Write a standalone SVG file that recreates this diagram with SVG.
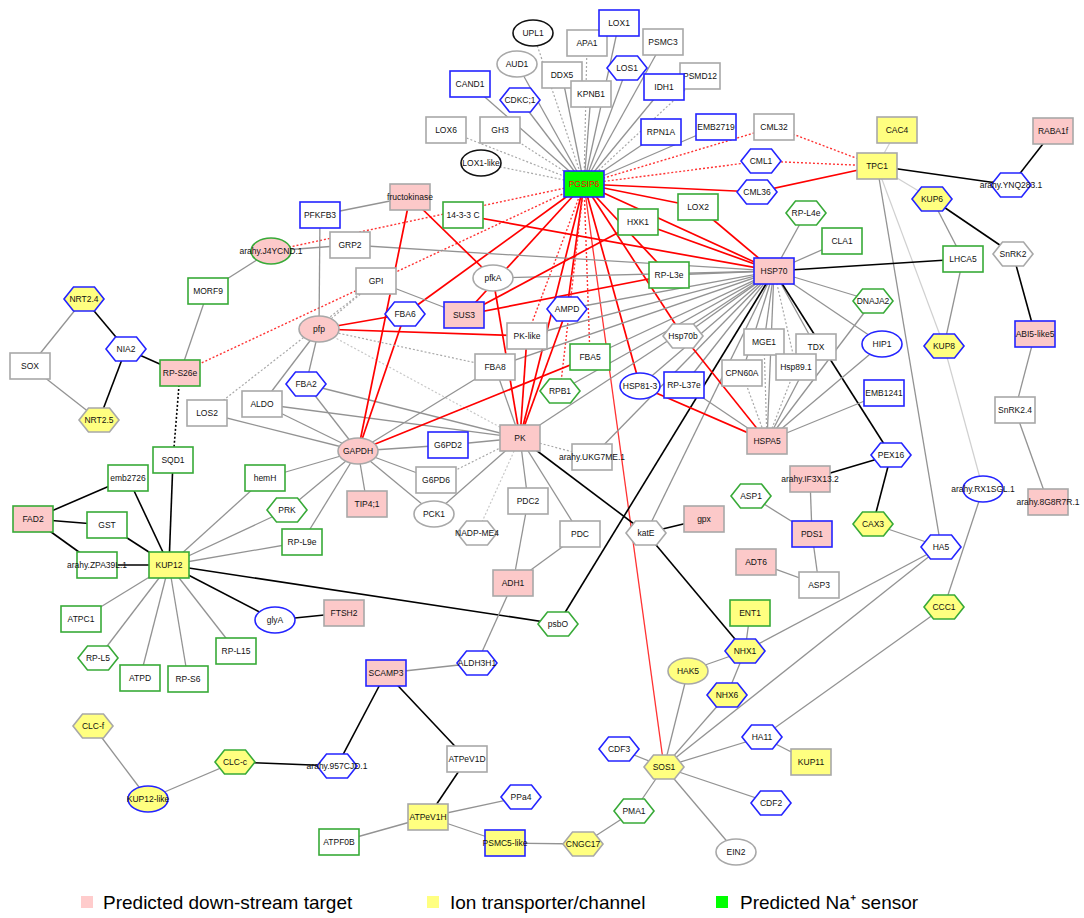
<svg xmlns="http://www.w3.org/2000/svg" xmlns:xlink="http://www.w3.org/1999/xlink" width="1084" height="918" viewBox="0 0 1084 918">
<defs>
<polygon id="hx" points="-20,0 -10.5,-12 10.5,-12 20,0 10.5,12 -10.5,12"/>
<style>
.w{fill:#fff}.p{fill:#fcc9c9}.y{fill:#ffff80}.gf{fill:#00ff00}
.b{stroke:#2424ff}.gs{stroke:#38aa38}.s{stroke:#a8a8a8}.bk{stroke:#111}
rect,ellipse,use{stroke-width:1.6}
text{font-family:"Liberation Sans",Arial,sans-serif;font-size:8.5px;text-anchor:middle;fill:#111}
.lg text{font-size:19px;text-anchor:start;fill:#000}
line{fill:none}
.eg{stroke:#939393;stroke-width:1.3}
.egd{stroke:#a8a8a8;stroke-width:1.2;stroke-dasharray:2 2}
.elg{stroke:#d0d0d0;stroke-width:1.2}
.elgd{stroke:#c8c8c8;stroke-width:1.2;stroke-dasharray:2 2}
.er{stroke:#f00;stroke-width:1.7}
.ert{stroke:#f33;stroke-width:1.3}
.erd{stroke:#f33;stroke-width:1.4;stroke-dasharray:2 2}
.ek{stroke:#000;stroke-width:1.6}
.ekd{stroke:#000;stroke-width:1.6;stroke-dasharray:2 2}
</style>
</defs>
<rect width="1084" height="918" fill="#fff"/>
<g id="connectors">
<line class="egd" x1="584" y1="184" x2="533" y2="33"/>
<line class="eg" x1="584" y1="184" x2="517" y2="64"/>
<line class="eg" x1="584" y1="184" x2="470" y2="84"/>
<line class="eg" x1="584" y1="184" x2="520" y2="100"/>
<line class="egd" x1="584" y1="184" x2="446" y2="130"/>
<line class="egd" x1="584" y1="184" x2="500" y2="130"/>
<line class="egd" x1="584" y1="184" x2="481" y2="163"/>
<line class="egd" x1="584" y1="184" x2="587" y2="43"/>
<line class="eg" x1="584" y1="184" x2="562" y2="75"/>
<line class="eg" x1="584" y1="184" x2="591" y2="94"/>
<line class="eg" x1="584" y1="184" x2="619" y2="23"/>
<line class="eg" x1="584" y1="184" x2="627" y2="68"/>
<line class="eg" x1="584" y1="184" x2="663" y2="42"/>
<line class="egd" x1="584" y1="184" x2="700" y2="76"/>
<line class="eg" x1="584" y1="184" x2="664" y2="87"/>
<line class="eg" x1="584" y1="184" x2="661" y2="132"/>
<line class="eg" x1="584" y1="184" x2="716" y2="127"/>
<line class="erd" x1="584" y1="184" x2="774" y2="127"/>
<line class="erd" x1="584" y1="184" x2="761" y2="161"/>
<line class="er" x1="584" y1="184" x2="757" y2="192"/>
<line class="er" x1="584" y1="184" x2="698" y2="207"/>
<line class="er" x1="584" y1="184" x2="774" y2="271"/>
<line class="er" x1="584" y1="184" x2="669" y2="275"/>
<line class="er" x1="584" y1="184" x2="683" y2="336"/>
<line class="er" x1="584" y1="184" x2="640" y2="386"/>
<line class="ert" x1="584" y1="184" x2="664" y2="767"/>
<line class="erd" x1="584" y1="184" x2="590" y2="357"/>
<line class="er" x1="584" y1="184" x2="520" y2="438"/>
<line class="erd" x1="584" y1="184" x2="527" y2="336"/>
<line class="er" x1="584" y1="184" x2="567" y2="309"/>
<line class="erd" x1="584" y1="184" x2="560" y2="391"/>
<line class="erd" x1="584" y1="184" x2="271" y2="251"/>
<line class="erd" x1="584" y1="184" x2="180" y2="373"/>
<line class="er" x1="584" y1="184" x2="405" y2="314"/>
<line class="er" x1="584" y1="184" x2="464" y2="315"/>
<line class="erd" x1="774" y1="127" x2="877" y2="166"/>
<line class="erd" x1="761" y1="161" x2="877" y2="166"/>
<line class="er" x1="757" y1="192" x2="877" y2="166"/>
<line class="elg" x1="877" y1="166" x2="897" y2="130"/>
<line class="ek" x1="877" y1="166" x2="1011" y2="185"/>
<line class="ek" x1="1053" y1="131" x2="1011" y2="185"/>
<line class="elg" x1="877" y1="166" x2="932" y2="199"/>
<line class="eg" x1="877" y1="166" x2="941" y2="547"/>
<line class="elg" x1="877" y1="166" x2="944" y2="346"/>
<line class="ek" x1="932" y1="199" x2="1013" y2="254"/>
<line class="eg" x1="932" y1="199" x2="963" y2="259"/>
<line class="eg" x1="963" y1="259" x2="944" y2="346"/>
<line class="ek" x1="963" y1="259" x2="774" y2="271"/>
<line class="ek" x1="1013" y1="254" x2="1035" y2="334"/>
<line class="eg" x1="1035" y1="334" x2="1015" y2="410"/>
<line class="eg" x1="1015" y1="410" x2="1048" y2="502"/>
<line class="elg" x1="944" y1="346" x2="983" y2="489"/>
<line class="eg" x1="983" y1="489" x2="944" y2="607"/>
<line class="eg" x1="944" y1="607" x2="762" y2="737"/>
<line class="er" x1="463" y1="215" x2="774" y2="271"/>
<line class="er" x1="698" y1="207" x2="774" y2="271"/>
<line class="er" x1="638" y1="222" x2="774" y2="271"/>
<line class="eg" x1="350" y1="245" x2="774" y2="271"/>
<line class="eg" x1="493" y1="278" x2="774" y2="271"/>
<line class="eg" x1="669" y1="275" x2="774" y2="271"/>
<line class="eg" x1="806" y1="213" x2="774" y2="271"/>
<line class="eg" x1="842" y1="241" x2="774" y2="271"/>
<line class="eg" x1="873" y1="301" x2="774" y2="271"/>
<line class="eg" x1="882" y1="344" x2="774" y2="271"/>
<line class="eg" x1="816" y1="347" x2="774" y2="271"/>
<line class="egd" x1="796" y1="367" x2="774" y2="271"/>
<line class="eg" x1="764" y1="342" x2="774" y2="271"/>
<line class="eg" x1="742" y1="373" x2="774" y2="271"/>
<line class="eg" x1="767" y1="441" x2="774" y2="271"/>
<line class="eg" x1="684" y1="385" x2="774" y2="271"/>
<line class="eg" x1="640" y1="386" x2="774" y2="271"/>
<line class="eg" x1="683" y1="336" x2="774" y2="271"/>
<line class="eg" x1="590" y1="357" x2="774" y2="271"/>
<line class="eg" x1="560" y1="391" x2="774" y2="271"/>
<line class="eg" x1="567" y1="309" x2="774" y2="271"/>
<line class="eg" x1="527" y1="336" x2="774" y2="271"/>
<line class="eg" x1="495" y1="367" x2="774" y2="271"/>
<line class="eg" x1="520" y1="438" x2="774" y2="271"/>
<line class="eg" x1="592" y1="457" x2="774" y2="271"/>
<line class="eg" x1="646" y1="533" x2="774" y2="271"/>
<line class="ek" x1="891" y1="455" x2="774" y2="271"/>
<line class="ek" x1="558" y1="624" x2="774" y2="271"/>
<line class="er" x1="683" y1="336" x2="767" y2="441"/>
<line class="er" x1="640" y1="386" x2="767" y2="441"/>
<line class="eg" x1="684" y1="385" x2="767" y2="441"/>
<line class="egd" x1="742" y1="373" x2="767" y2="441"/>
<line class="egd" x1="764" y1="342" x2="767" y2="441"/>
<line class="egd" x1="796" y1="367" x2="767" y2="441"/>
<line class="eg" x1="816" y1="347" x2="767" y2="441"/>
<line class="eg" x1="882" y1="344" x2="767" y2="441"/>
<line class="eg" x1="884" y1="393" x2="767" y2="441"/>
<line class="eg" x1="873" y1="301" x2="767" y2="441"/>
<line class="er" x1="493" y1="278" x2="520" y2="438"/>
<line class="er" x1="567" y1="309" x2="520" y2="438"/>
<line class="er" x1="527" y1="336" x2="520" y2="438"/>
<line class="eg" x1="495" y1="367" x2="520" y2="438"/>
<line class="eg" x1="262" y1="404" x2="520" y2="438"/>
<line class="eg" x1="306" y1="384" x2="520" y2="438"/>
<line class="elgd" x1="319" y1="329" x2="520" y2="438"/>
<line class="eg" x1="448" y1="445" x2="520" y2="438"/>
<line class="egd" x1="436" y1="480" x2="520" y2="438"/>
<line class="eg" x1="434" y1="514" x2="520" y2="438"/>
<line class="elgd" x1="477" y1="533" x2="520" y2="438"/>
<line class="eg" x1="528" y1="501" x2="520" y2="438"/>
<line class="eg" x1="580" y1="534" x2="520" y2="438"/>
<line class="egd" x1="592" y1="457" x2="520" y2="438"/>
<line class="ek" x1="646" y1="533" x2="520" y2="438"/>
<line class="er" x1="410" y1="197" x2="358" y2="451"/>
<line class="er" x1="405" y1="314" x2="358" y2="451"/>
<line class="er" x1="590" y1="357" x2="358" y2="451"/>
<line class="eg" x1="495" y1="367" x2="358" y2="451"/>
<line class="eg" x1="306" y1="384" x2="358" y2="451"/>
<line class="eg" x1="262" y1="404" x2="358" y2="451"/>
<line class="eg" x1="207" y1="413" x2="358" y2="451"/>
<line class="eg" x1="265" y1="478" x2="358" y2="451"/>
<line class="eg" x1="287" y1="510" x2="358" y2="451"/>
<line class="eg" x1="302" y1="542" x2="358" y2="451"/>
<line class="eg" x1="367" y1="504" x2="358" y2="451"/>
<line class="eg" x1="434" y1="514" x2="358" y2="451"/>
<line class="eg" x1="436" y1="480" x2="358" y2="451"/>
<line class="eg" x1="448" y1="445" x2="358" y2="451"/>
<line class="er" x1="319" y1="329" x2="405" y2="314"/>
<line class="er" x1="319" y1="329" x2="527" y2="336"/>
<line class="eg" x1="319" y1="329" x2="306" y2="384"/>
<line class="eg" x1="319" y1="329" x2="262" y2="404"/>
<line class="eg" x1="319" y1="329" x2="320" y2="215"/>
<line class="egd" x1="319" y1="329" x2="495" y2="367"/>
<line class="egd" x1="319" y1="329" x2="376" y2="281"/>
<line class="eg" x1="410" y1="197" x2="320" y2="215"/>
<line class="er" x1="410" y1="197" x2="493" y2="278"/>
<line class="eg" x1="350" y1="245" x2="271" y2="251"/>
<line class="eg" x1="271" y1="251" x2="208" y2="291"/>
<line class="eg" x1="208" y1="291" x2="180" y2="373"/>
<line class="eg" x1="376" y1="281" x2="464" y2="315"/>
<line class="egd" x1="376" y1="281" x2="207" y2="413"/>
<line class="er" x1="638" y1="222" x2="464" y2="315"/>
<line class="er" x1="669" y1="275" x2="464" y2="315"/>
<line class="ek" x1="180" y1="373" x2="126" y2="349"/>
<line class="ek" x1="126" y1="349" x2="84" y2="299"/>
<line class="ek" x1="126" y1="349" x2="99" y2="420"/>
<line class="eg" x1="30" y1="366" x2="84" y2="299"/>
<line class="eg" x1="30" y1="366" x2="99" y2="420"/>
<line class="ekd" x1="180" y1="373" x2="173" y2="460"/>
<line class="ek" x1="173" y1="460" x2="169" y2="565"/>
<line class="ek" x1="128" y1="478" x2="169" y2="565"/>
<line class="ek" x1="128" y1="478" x2="33" y2="519"/>
<line class="ek" x1="33" y1="519" x2="107" y2="525"/>
<line class="ek" x1="33" y1="519" x2="97" y2="565"/>
<line class="ek" x1="107" y1="525" x2="169" y2="565"/>
<line class="ek" x1="97" y1="565" x2="169" y2="565"/>
<line class="eg" x1="169" y1="565" x2="265" y2="478"/>
<line class="eg" x1="169" y1="565" x2="287" y2="510"/>
<line class="eg" x1="169" y1="565" x2="302" y2="542"/>
<line class="ek" x1="169" y1="565" x2="275" y2="620"/>
<line class="ek" x1="169" y1="565" x2="558" y2="624"/>
<line class="eg" x1="169" y1="565" x2="81" y2="619"/>
<line class="eg" x1="169" y1="565" x2="98" y2="658"/>
<line class="eg" x1="169" y1="565" x2="140" y2="678"/>
<line class="eg" x1="169" y1="565" x2="188" y2="679"/>
<line class="eg" x1="169" y1="565" x2="236" y2="651"/>
<line class="ek" x1="275" y1="620" x2="344" y2="613"/>
<line class="eg" x1="513" y1="583" x2="528" y2="501"/>
<line class="eg" x1="513" y1="583" x2="580" y2="534"/>
<line class="eg" x1="513" y1="583" x2="477" y2="663"/>
<line class="eg" x1="386" y1="673" x2="477" y2="663"/>
<line class="ek" x1="386" y1="673" x2="337" y2="766"/>
<line class="ek" x1="386" y1="673" x2="467" y2="759"/>
<line class="ek" x1="337" y1="766" x2="235" y2="762"/>
<line class="eg" x1="235" y1="762" x2="148" y2="799"/>
<line class="eg" x1="93" y1="726" x2="148" y2="799"/>
<line class="ek" x1="467" y1="759" x2="428" y2="817"/>
<line class="eg" x1="428" y1="817" x2="521" y2="797"/>
<line class="eg" x1="428" y1="817" x2="339" y2="842"/>
<line class="eg" x1="428" y1="817" x2="505" y2="843"/>
<line class="eg" x1="505" y1="843" x2="583" y2="844"/>
<line class="eg" x1="583" y1="844" x2="634" y2="811"/>
<line class="eg" x1="634" y1="811" x2="664" y2="767"/>
<line class="eg" x1="664" y1="767" x2="619" y2="749"/>
<line class="eg" x1="664" y1="767" x2="771" y2="803"/>
<line class="eg" x1="664" y1="767" x2="736" y2="852"/>
<line class="eg" x1="664" y1="767" x2="762" y2="737"/>
<line class="eg" x1="664" y1="767" x2="688" y2="671"/>
<line class="eg" x1="664" y1="767" x2="727" y2="695"/>
<line class="eg" x1="664" y1="767" x2="941" y2="547"/>
<line class="eg" x1="745" y1="651" x2="750" y2="613"/>
<line class="eg" x1="745" y1="651" x2="688" y2="671"/>
<line class="eg" x1="745" y1="651" x2="727" y2="695"/>
<line class="eg" x1="745" y1="651" x2="941" y2="547"/>
<line class="ek" x1="745" y1="651" x2="646" y2="533"/>
<line class="eg" x1="762" y1="737" x2="811" y2="762"/>
<line class="ek" x1="646" y1="533" x2="704" y2="519"/>
<line class="eg" x1="941" y1="547" x2="873" y2="524"/>
<line class="ek" x1="873" y1="524" x2="891" y2="455"/>
<line class="ek" x1="891" y1="455" x2="810" y2="479"/>
<line class="eg" x1="810" y1="479" x2="812" y2="534"/>
<line class="eg" x1="812" y1="534" x2="751" y2="496"/>
<line class="eg" x1="812" y1="534" x2="819" y2="585"/>
<line class="eg" x1="756" y1="562" x2="819" y2="585"/>
</g>
<g id="nodes">
<g id="n-UPL1" transform="translate(533,33)"><ellipse rx="20" ry="13" class="w bk"/><text y="3">UPL1</text></g>
<g id="n-AUD1" transform="translate(517,64)"><ellipse rx="20" ry="13" class="w s"/><text y="3">AUD1</text></g>
<g id="n-CAND1" transform="translate(470,84)"><rect x="-20" y="-13" width="40" height="26" class="w b"/><text y="3">CAND1</text></g>
<g id="n-CDKC1" transform="translate(520,100)"><use href="#hx" class="w b"/><text y="3">CDKC;1</text></g>
<g id="n-LOX6" transform="translate(446,130)"><rect x="-20" y="-13" width="40" height="26" class="w s"/><text y="3">LOX6</text></g>
<g id="n-GH3" transform="translate(500,130)"><rect x="-20" y="-13" width="40" height="26" class="w s"/><text y="3">GH3</text></g>
<g id="n-LOX1like" transform="translate(481,163)"><ellipse rx="20" ry="13" class="w bk"/><text y="3">LOX1-like</text></g>
<g id="n-APA1" transform="translate(587,43)"><rect x="-20" y="-13" width="40" height="26" class="w s"/><text y="3">APA1</text></g>
<g id="n-LOX1" transform="translate(619,23)"><rect x="-20" y="-13" width="40" height="26" class="w b"/><text y="3">LOX1</text></g>
<g id="n-PSMC3" transform="translate(663,42)"><rect x="-20" y="-13" width="40" height="26" class="w s"/><text y="3">PSMC3</text></g>
<g id="n-DDX5" transform="translate(562,75)"><rect x="-20" y="-13" width="40" height="26" class="w s"/><text y="3">DDX5</text></g>
<g id="n-LOS1" transform="translate(627,68)"><use href="#hx" class="w b"/><text y="3">LOS1</text></g>
<g id="n-PSMD12" transform="translate(700,76)"><rect x="-20" y="-13" width="40" height="26" class="w s"/><text y="3">PSMD12</text></g>
<g id="n-IDH1" transform="translate(664,87)"><rect x="-20" y="-13" width="40" height="26" class="w b"/><text y="3">IDH1</text></g>
<g id="n-KPNB1" transform="translate(591,94)"><rect x="-20" y="-13" width="40" height="26" class="w s"/><text y="3">KPNB1</text></g>
<g id="n-RPN1A" transform="translate(661,132)"><rect x="-20" y="-13" width="40" height="26" class="w b"/><text y="3">RPN1A</text></g>
<g id="n-EMB2719" transform="translate(716,127)"><rect x="-20" y="-13" width="40" height="26" class="w b"/><text y="3">EMB2719</text></g>
<g id="n-CML32" transform="translate(774,127)"><rect x="-20" y="-13" width="40" height="26" class="w s"/><text y="3">CML32</text></g>
<g id="n-CML1" transform="translate(761,161)"><use href="#hx" class="w b"/><text y="3">CML1</text></g>
<g id="n-CML36" transform="translate(757,192)"><use href="#hx" class="w b"/><text y="3">CML36</text></g>
<g id="n-PGSIP6" transform="translate(584,184)"><rect x="-20" y="-13" width="40" height="26" class="gf b"/><text y="3" style="fill:#f00">PGSIP6</text></g>
<g id="n-LOX2" transform="translate(698,207)"><rect x="-20" y="-13" width="40" height="26" class="w gs"/><text y="3">LOX2</text></g>
<g id="n-HXK1" transform="translate(638,222)"><rect x="-20" y="-13" width="40" height="26" class="w gs"/><text y="3">HXK1</text></g>
<g id="n-RPL3e" transform="translate(669,275)"><rect x="-20" y="-13" width="40" height="26" class="w gs"/><text y="3">RP-L3e</text></g>
<g id="n-HSP70" transform="translate(774,271)"><rect x="-20" y="-13" width="40" height="26" class="p b"/><text y="3">HSP70</text></g>
<g id="n-RPL4e" transform="translate(806,213)"><use href="#hx" class="w gs"/><text y="3">RP-L4e</text></g>
<g id="n-CAC4" transform="translate(897,130)"><rect x="-20" y="-13" width="40" height="26" class="y s"/><text y="3">CAC4</text></g>
<g id="n-RABA1f" transform="translate(1053,131)"><rect x="-20" y="-13" width="40" height="26" class="p s"/><text y="3">RABA1f</text></g>
<g id="n-TPC1" transform="translate(877,166)"><rect x="-20" y="-13" width="40" height="26" class="y s"/><text y="3">TPC1</text></g>
<g id="n-YNQ" transform="translate(1011,185)"><use href="#hx" class="w b"/><text y="3">arahy.YNQ283.1</text></g>
<g id="n-KUP6" transform="translate(932,199)"><use href="#hx" class="y b"/><text y="3">KUP6</text></g>
<g id="n-CLA1" transform="translate(842,241)"><rect x="-20" y="-13" width="40" height="26" class="w gs"/><text y="3">CLA1</text></g>
<g id="n-LHCA5" transform="translate(963,259)"><rect x="-20" y="-13" width="40" height="26" class="w gs"/><text y="3">LHCA5</text></g>
<g id="n-SnRK2" transform="translate(1013,254)"><use href="#hx" class="w s"/><text y="3">SnRK2</text></g>
<g id="n-DNAJA2" transform="translate(873,301)"><use href="#hx" class="w gs"/><text y="3">DNAJA2</text></g>
<g id="n-fructokinase" transform="translate(410,197)"><rect x="-20" y="-13" width="40" height="26" class="p s"/><text y="3">fructokinase</text></g>
<g id="n-PFKFB3" transform="translate(320,215)"><rect x="-20" y="-13" width="40" height="26" class="w b"/><text y="3">PFKFB3</text></g>
<g id="n-1433C" transform="translate(463,215)"><rect x="-20" y="-13" width="40" height="26" class="w gs"/><text y="3">14-3-3 C</text></g>
<g id="n-GRP2" transform="translate(350,245)"><rect x="-20" y="-13" width="40" height="26" class="w s"/><text y="3">GRP2</text></g>
<g id="n-J4YCND" transform="translate(271,251)"><ellipse rx="20" ry="13" class="p gs"/><text y="3">arahy.J4YCND.1</text></g>
<g id="n-GPI" transform="translate(376,281)"><rect x="-20" y="-13" width="40" height="26" class="w s"/><text y="3">GPI</text></g>
<g id="n-pfkA" transform="translate(493,278)"><ellipse rx="20" ry="13" class="w s"/><text y="3">pfkA</text></g>
<g id="n-SUS3" transform="translate(464,315)"><rect x="-20" y="-13" width="40" height="26" class="p b"/><text y="3">SUS3</text></g>
<g id="n-MORF9" transform="translate(208,291)"><rect x="-20" y="-13" width="40" height="26" class="w gs"/><text y="3">MORF9</text></g>
<g id="n-NRT24" transform="translate(84,299)"><use href="#hx" class="y b"/><text y="3">NRT2.4</text></g>
<g id="n-NIA2" transform="translate(126,349)"><use href="#hx" class="w b"/><text y="3">NIA2</text></g>
<g id="n-SOX" transform="translate(30,366)"><rect x="-20" y="-13" width="40" height="26" class="w s"/><text y="3">SOX</text></g>
<g id="n-NRT25" transform="translate(99,420)"><use href="#hx" class="y s"/><text y="3">NRT2.5</text></g>
<g id="n-RPS26e" transform="translate(180,373)"><rect x="-20" y="-13" width="40" height="26" class="p gs"/><text y="3">RP-S26e</text></g>
<g id="n-LOS2" transform="translate(207,413)"><rect x="-20" y="-13" width="40" height="26" class="w s"/><text y="3">LOS2</text></g>
<g id="n-ALDO" transform="translate(262,404)"><rect x="-20" y="-13" width="40" height="26" class="w s"/><text y="3">ALDO</text></g>
<g id="n-SQD1" transform="translate(173,460)"><rect x="-20" y="-13" width="40" height="26" class="w gs"/><text y="3">SQD1</text></g>
<g id="n-emb2726" transform="translate(128,478)"><rect x="-20" y="-13" width="40" height="26" class="w gs"/><text y="3">emb2726</text></g>
<g id="n-hemH" transform="translate(265,478)"><rect x="-20" y="-13" width="40" height="26" class="w gs"/><text y="3">hemH</text></g>
<g id="n-FAD2" transform="translate(33,519)"><rect x="-20" y="-13" width="40" height="26" class="p gs"/><text y="3">FAD2</text></g>
<g id="n-GST" transform="translate(107,525)"><rect x="-20" y="-13" width="40" height="26" class="w gs"/><text y="3">GST</text></g>
<g id="n-ZPA39L" transform="translate(97,565)"><rect x="-20" y="-13" width="40" height="26" class="w gs"/><text y="3">arahy.ZPA39L.1</text></g>
<g id="n-KUP12" transform="translate(169,565)"><rect x="-20" y="-13" width="40" height="26" class="y gs"/><text y="3">KUP12</text></g>
<g id="n-PRK" transform="translate(287,510)"><use href="#hx" class="w gs"/><text y="3">PRK</text></g>
<g id="n-RPL9e" transform="translate(302,542)"><rect x="-20" y="-13" width="40" height="26" class="w gs"/><text y="3">RP-L9e</text></g>
<g id="n-pfp" transform="translate(319,329)"><ellipse rx="20" ry="13" class="p s"/><text y="3">pfp</text></g>
<g id="n-FBA6" transform="translate(405,314)"><use href="#hx" class="w b"/><text y="3">FBA6</text></g>
<g id="n-PKlike" transform="translate(527,336)"><rect x="-20" y="-13" width="40" height="26" class="w s"/><text y="3">PK-like</text></g>
<g id="n-FBA8" transform="translate(495,367)"><rect x="-20" y="-13" width="40" height="26" class="w s"/><text y="3">FBA8</text></g>
<g id="n-FBA2" transform="translate(306,384)"><use href="#hx" class="w b"/><text y="3">FBA2</text></g>
<g id="n-GAPDH" transform="translate(358,451)"><ellipse rx="20" ry="13" class="p s"/><text y="3">GAPDH</text></g>
<g id="n-G6PD2" transform="translate(448,445)"><rect x="-20" y="-13" width="40" height="26" class="w b"/><text y="3">G6PD2</text></g>
<g id="n-PK" transform="translate(520,438)"><rect x="-20" y="-13" width="40" height="26" class="p s"/><text y="3">PK</text></g>
<g id="n-G6PD6" transform="translate(436,480)"><rect x="-20" y="-13" width="40" height="26" class="w s"/><text y="3">G6PD6</text></g>
<g id="n-TIP41" transform="translate(367,504)"><rect x="-20" y="-13" width="40" height="26" class="p s"/><text y="3">TIP4;1</text></g>
<g id="n-PCK1" transform="translate(434,514)"><ellipse rx="20" ry="13" class="w s"/><text y="3">PCK1</text></g>
<g id="n-PDC2" transform="translate(528,501)"><rect x="-20" y="-13" width="40" height="26" class="w s"/><text y="3">PDC2</text></g>
<g id="n-NADPME4" transform="translate(477,533)"><use href="#hx" class="w s"/><text y="3">NADP-ME4</text></g>
<g id="n-ADH1" transform="translate(513,583)"><rect x="-20" y="-13" width="40" height="26" class="p s"/><text y="3">ADH1</text></g>
<g id="n-FTSH2" transform="translate(344,613)"><rect x="-20" y="-13" width="40" height="26" class="p s"/><text y="3">FTSH2</text></g>
<g id="n-glyA" transform="translate(275,620)"><ellipse rx="20" ry="13" class="w b"/><text y="3">glyA</text></g>
<g id="n-AMPD" transform="translate(567,309)"><use href="#hx" class="w b"/><text y="3">AMPD</text></g>
<g id="n-FBA5" transform="translate(590,357)"><rect x="-20" y="-13" width="40" height="26" class="w gs"/><text y="3">FBA5</text></g>
<g id="n-Hsp70b" transform="translate(683,336)"><use href="#hx" class="w s"/><text y="3">Hsp70b</text></g>
<g id="n-MGE1" transform="translate(764,342)"><rect x="-20" y="-13" width="40" height="26" class="w s"/><text y="3">MGE1</text></g>
<g id="n-TDX" transform="translate(816,347)"><rect x="-20" y="-13" width="40" height="26" class="w s"/><text y="3">TDX</text></g>
<g id="n-Hsp891" transform="translate(796,367)"><rect x="-20" y="-13" width="40" height="26" class="w s"/><text y="3">Hsp89.1</text></g>
<g id="n-CPN60A" transform="translate(742,373)"><rect x="-20" y="-13" width="40" height="26" class="w s"/><text y="3">CPN60A</text></g>
<g id="n-RPB1" transform="translate(560,391)"><use href="#hx" class="w gs"/><text y="3">RPB1</text></g>
<g id="n-HSP813" transform="translate(640,386)"><ellipse rx="20" ry="13" class="w b"/><text y="3">HSP81-3</text></g>
<g id="n-RPL37e" transform="translate(684,385)"><rect x="-20" y="-13" width="40" height="26" class="w b"/><text y="3">RP-L37e</text></g>
<g id="n-HSPA5" transform="translate(767,441)"><rect x="-20" y="-13" width="40" height="26" class="p s"/><text y="3">HSPA5</text></g>
<g id="n-UKG7ME" transform="translate(592,457)"><rect x="-20" y="-13" width="40" height="26" class="w s"/><text y="3">arahy.UKG7ME.1</text></g>
<g id="n-PDC" transform="translate(580,534)"><rect x="-20" y="-13" width="40" height="26" class="w s"/><text y="3">PDC</text></g>
<g id="n-katE" transform="translate(646,533)"><use href="#hx" class="w s"/><text y="3">katE</text></g>
<g id="n-gpx" transform="translate(704,519)"><rect x="-20" y="-13" width="40" height="26" class="p s"/><text y="3">gpx</text></g>
<g id="n-ASP1" transform="translate(751,496)"><use href="#hx" class="w gs"/><text y="3">ASP1</text></g>
<g id="n-IF3X13" transform="translate(810,479)"><rect x="-20" y="-13" width="40" height="26" class="p s"/><text y="3">arahy.IF3X13.2</text></g>
<g id="n-PDS1" transform="translate(812,534)"><rect x="-20" y="-13" width="40" height="26" class="p b"/><text y="3">PDS1</text></g>
<g id="n-ADT6" transform="translate(756,562)"><rect x="-20" y="-13" width="40" height="26" class="p s"/><text y="3">ADT6</text></g>
<g id="n-ASP3" transform="translate(819,585)"><rect x="-20" y="-13" width="40" height="26" class="w s"/><text y="3">ASP3</text></g>
<g id="n-ENT1" transform="translate(750,613)"><rect x="-20" y="-13" width="40" height="26" class="y gs"/><text y="3">ENT1</text></g>
<g id="n-HIP1" transform="translate(882,344)"><ellipse rx="20" ry="13" class="w b"/><text y="3">HIP1</text></g>
<g id="n-KUP8" transform="translate(944,346)"><use href="#hx" class="y b"/><text y="3">KUP8</text></g>
<g id="n-ABI5" transform="translate(1035,334)"><rect x="-20" y="-13" width="40" height="26" class="p b"/><text y="3">ABI5-like5</text></g>
<g id="n-EMB1241" transform="translate(884,393)"><rect x="-20" y="-13" width="40" height="26" class="w b"/><text y="3">EMB1241</text></g>
<g id="n-SnRK24" transform="translate(1015,410)"><rect x="-20" y="-13" width="40" height="26" class="w s"/><text y="3">SnRK2.4</text></g>
<g id="n-PEX16" transform="translate(891,455)"><use href="#hx" class="w b"/><text y="3">PEX16</text></g>
<g id="n-RX1SGL" transform="translate(983,489)"><ellipse rx="20" ry="13" class="w b"/><text y="3">arahy.RX1SGL.1</text></g>
<g id="n-8G8R7R" transform="translate(1048,502)"><rect x="-20" y="-13" width="40" height="26" class="p s"/><text y="3">arahy.8G8R7R.1</text></g>
<g id="n-CAX3" transform="translate(873,524)"><use href="#hx" class="y gs"/><text y="3">CAX3</text></g>
<g id="n-HA5" transform="translate(941,547)"><use href="#hx" class="w b"/><text y="3">HA5</text></g>
<g id="n-CCC1" transform="translate(944,607)"><use href="#hx" class="y gs"/><text y="3">CCC1</text></g>
<g id="n-ATPC1" transform="translate(81,619)"><rect x="-20" y="-13" width="40" height="26" class="w gs"/><text y="3">ATPC1</text></g>
<g id="n-RPL5" transform="translate(98,658)"><use href="#hx" class="w gs"/><text y="3">RP-L5</text></g>
<g id="n-ATPD" transform="translate(140,678)"><rect x="-20" y="-13" width="40" height="26" class="w gs"/><text y="3">ATPD</text></g>
<g id="n-RPS6" transform="translate(188,679)"><rect x="-20" y="-13" width="40" height="26" class="w gs"/><text y="3">RP-S6</text></g>
<g id="n-RPL15" transform="translate(236,651)"><rect x="-20" y="-13" width="40" height="26" class="w gs"/><text y="3">RP-L15</text></g>
<g id="n-CLCf" transform="translate(93,726)"><use href="#hx" class="y s"/><text y="3">CLC-f</text></g>
<g id="n-CLCc" transform="translate(235,762)"><use href="#hx" class="y gs"/><text y="3">CLC-c</text></g>
<g id="n-KUP12like" transform="translate(148,799)"><ellipse rx="20" ry="13" class="y b"/><text y="3">KUP12-like</text></g>
<g id="n-SCAMP3" transform="translate(386,673)"><rect x="-20" y="-13" width="40" height="26" class="p b"/><text y="3">SCAMP3</text></g>
<g id="n-ALDH3H1" transform="translate(477,663)"><use href="#hx" class="w b"/><text y="3">ALDH3H1</text></g>
<g id="n-957CJD" transform="translate(337,766)"><use href="#hx" class="w b"/><text y="3">arahy.957CJD.1</text></g>
<g id="n-ATPeV1D" transform="translate(467,759)"><rect x="-20" y="-13" width="40" height="26" class="w s"/><text y="3">ATPeV1D</text></g>
<g id="n-PPa4" transform="translate(521,797)"><use href="#hx" class="w b"/><text y="3">PPa4</text></g>
<g id="n-ATPeV1H" transform="translate(428,817)"><rect x="-20" y="-13" width="40" height="26" class="y s"/><text y="3">ATPeV1H</text></g>
<g id="n-ATPF0B" transform="translate(339,842)"><rect x="-20" y="-13" width="40" height="26" class="w gs"/><text y="3">ATPF0B</text></g>
<g id="n-PSMC5like" transform="translate(505,843)"><rect x="-20" y="-13" width="40" height="26" class="y b"/><text y="3">PSMC5-like</text></g>
<g id="n-psbO" transform="translate(558,624)"><use href="#hx" class="w gs"/><text y="3">psbO</text></g>
<g id="n-NHX1" transform="translate(745,651)"><use href="#hx" class="y b"/><text y="3">NHX1</text></g>
<g id="n-HAK5" transform="translate(688,671)"><ellipse rx="20" ry="13" class="y s"/><text y="3">HAK5</text></g>
<g id="n-NHX6" transform="translate(727,695)"><use href="#hx" class="y b"/><text y="3">NHX6</text></g>
<g id="n-HA11" transform="translate(762,737)"><use href="#hx" class="w b"/><text y="3">HA11</text></g>
<g id="n-KUP11" transform="translate(811,762)"><rect x="-20" y="-13" width="40" height="26" class="y s"/><text y="3">KUP11</text></g>
<g id="n-CDF3" transform="translate(619,749)"><use href="#hx" class="w b"/><text y="3">CDF3</text></g>
<g id="n-SOS1" transform="translate(664,767)"><use href="#hx" class="y s"/><text y="3">SOS1</text></g>
<g id="n-CDF2" transform="translate(771,803)"><use href="#hx" class="w b"/><text y="3">CDF2</text></g>
<g id="n-PMA1" transform="translate(634,811)"><use href="#hx" class="w gs"/><text y="3">PMA1</text></g>
<g id="n-CNGC17" transform="translate(583,844)"><use href="#hx" class="y s"/><text y="3">CNGC17</text></g>
<g id="n-EIN2" transform="translate(736,852)"><ellipse rx="20" ry="13" class="w s"/><text y="3">EIN2</text></g>
</g>
<g id="legend" class="lg">
<rect x="81" y="896" width="12" height="12" fill="#ffcccc" stroke="none"/>
<text x="103" y="909">Predicted down-stream target</text>
<rect x="427" y="896" width="12" height="12" fill="#ffff80" stroke="none"/>
<text x="450" y="909">Ion transporter/channel</text>
<rect x="716" y="896" width="12" height="12" fill="#00ff00" stroke="none"/>
<text x="740" y="909">Predicted Na⁺ sensor</text>
</g>
</svg>
